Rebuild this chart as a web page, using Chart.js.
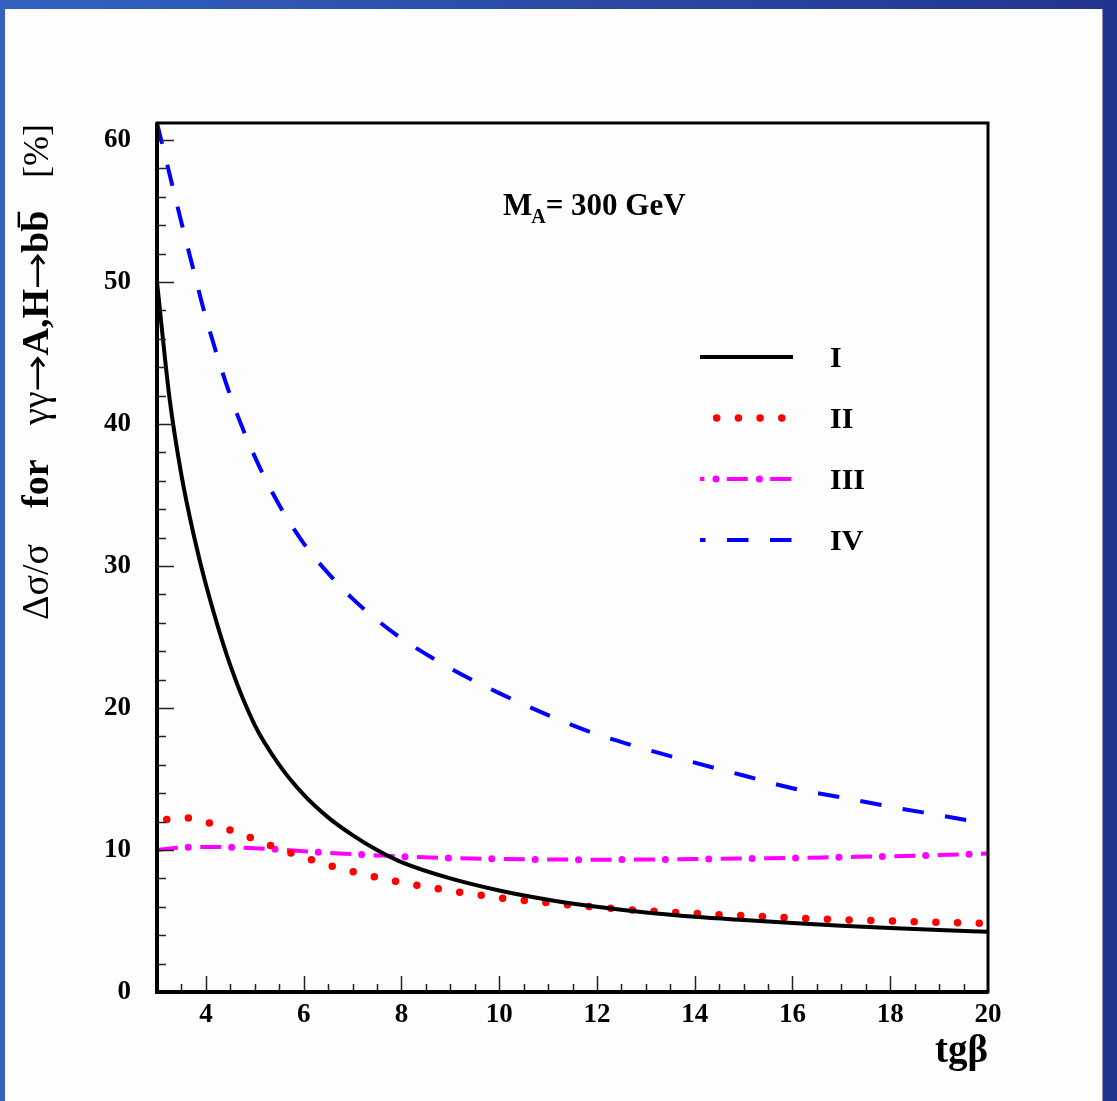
<!DOCTYPE html>
<html><head><meta charset="utf-8">
<script src="https://cdn.jsdelivr.net/npm/chart.js@4.4.1/dist/chart.umd.min.js"></script>
<style>html,body{margin:0;padding:0;background:#fdfdfd;overflow:hidden}canvas{display:block}</style>
</head><body><canvas id="c" width="1117" height="1101"></canvas>
<script>
// ---- data ----
const tgb = [3, 3.25, 3.5, 3.75, 4, 4.5, 5, 5.5, 6, 6.5, 7, 7.5, 8, 9, 10, 11, 12, 13, 14, 15, 16, 17, 18, 19, 20];
const seriesI   = [50, 42.0, 36.4, 32.2, 28.7, 23.0, 18.8, 16.0, 13.9, 12.3, 11.05, 10.0, 9.15, 8.0, 7.15, 6.5, 6.0, 5.6, 5.3, 5.07, 4.86, 4.67, 4.5, 4.36, 4.24];
const seriesII  = [12.0, 12.18, 12.27, 12.22, 11.98, 11.40, 10.75, 10.08, 9.50, 8.95, 8.48, 8.07, 7.72, 7.13, 6.64, 6.28, 5.97, 5.72, 5.53, 5.37, 5.22, 5.09, 5.00, 4.91, 4.83];
const seriesIII = [10.0, 10.1, 10.18, 10.21, 10.22, 10.19, 10.12, 10.03, 9.92, 9.80, 9.71, 9.62, 9.54, 9.44, 9.37, 9.33, 9.32, 9.33, 9.36, 9.40, 9.44, 9.50, 9.56, 9.64, 9.75];
const seriesIV  = [61.2, 57.7, 54.2, 50.8, 47.5, 42.0, 37.7, 34.3, 31.6, 29.5, 27.7, 26.2, 24.9, 22.8, 21.05, 19.5, 18.15, 17.1, 16.15, 15.25, 14.35, 13.7, 13.05, 12.45, 11.85];
const seriesNames = ['I', 'II', 'III', 'IV'];
const xMajorTicks = [4, 6, 8, 10, 12, 14, 16, 18, 20];
const yMajorTicks = [0, 10, 20, 30, 40, 50, 60];
const xRange = [3, 20];
const yRange = [0, 61.2];

// ---- styling ----
const SERIF = '"Liberation Serif", "Times New Roman", serif';
const xAll = []; for (let v = 3.5; v <= 20.001; v += 0.5) xAll.push(Math.round(v * 2) / 2);
const yAll = []; for (let v = 0; v <= 60; v += 2) yAll.push(v);
const pts = arr => tgb.map((x, i) => ({ x, y: arr[i] }));
const common = { pointRadius: 0, pointHoverRadius: 0, fill: false, cubicInterpolationMode: 'monotone', clip: 2 };

const datasets = [
  Object.assign({ label: 'I', data: pts(seriesI), borderColor: '#000000', borderWidth: 4 }, common),
  Object.assign({ label: 'II', data: pts(seriesII), borderColor: '#ff0000', borderWidth: 7.5, borderDash: [0, 21.7], borderDashOffset: 11.7, borderCapStyle: 'round' }, common),
  Object.assign({ label: 'III', data: pts(seriesIII), borderColor: '#ff00ff', borderWidth: 4, borderDash: [21, 22.4], borderCapStyle: 'butt' }, common),
  Object.assign({ label: 'III-dots', data: pts(seriesIII), borderColor: '#ff00ff', borderWidth: 7, borderDash: [0, 43.4], borderDashOffset: 12, borderCapStyle: 'round' }, common),
  Object.assign({ label: 'IV', data: pts(seriesIV), borderColor: '#0000ff', borderWidth: 4, borderDash: [21.5, 21.5], borderCapStyle: 'butt' }, common)
];

const decor = {
  id: 'decor',
  beforeDraw(chart) {
    const ctx = chart.ctx, W = chart.width, H = chart.height;
    ctx.save();
    const g = ctx.createLinearGradient(0, 0, W, 0);
    g.addColorStop(0, '#3362c0');
    g.addColorStop(1, '#22358e');
    ctx.fillStyle = g;
    ctx.fillRect(0, 0, W, H);
    ctx.fillStyle = '#fdfdfd';
    ctx.fillRect(5, 9, 1097, H - 9);
    ctx.fillStyle = '#8a8fc0';
    ctx.fillRect(1102, 9, 1, H - 9);
    ctx.restore();
  },
  afterDatasetsDraw(chart) {
    const ctx = chart.ctx, a = chart.chartArea;
    const xs = chart.scales.x, ys = chart.scales.y;
    ctx.save();
    // ticks (inward)
    ctx.strokeStyle = '#222';
    ctx.lineWidth = 1.5;
    ctx.beginPath();
    yAll.forEach(v => {
      if (v === 0) return;
      const p = Math.round(ys.getPixelForValue(v)) + 0.5;
      const len = (v % 10 === 0) ? 17 : 9;
      ctx.moveTo(a.left, p); ctx.lineTo(a.left + len, p);
    });
    xAll.forEach(v => {
      if (v >= 20) return;
      const p = Math.round(xs.getPixelForValue(v)) + 0.5;
      const len = (v % 2 === 0) ? 16 : 8;
      ctx.moveTo(p, a.bottom); ctx.lineTo(p, a.bottom - len);
    });
    ctx.stroke();
    // frame
    ctx.strokeStyle = '#000';
    ctx.lineWidth = 3;
    ctx.strokeRect(a.left, a.top, a.right - a.left, a.bottom - a.top);
    ctx.lineWidth = 4;
    ctx.beginPath();
    ctx.moveTo(a.left, a.top); ctx.lineTo(a.left, a.bottom); ctx.lineTo(a.right, a.bottom);
    ctx.stroke();

    // annotation M_A = 300 GeV
    ctx.fillStyle = '#000';
    ctx.textBaseline = 'alphabetic';
    ctx.textAlign = 'left';
    ctx.font = 'bold 31px ' + SERIF;
    let x = 503;
    ctx.fillText('M', x, 215); x += ctx.measureText('M').width;
    ctx.font = 'bold 20px ' + SERIF;
    ctx.fillText('A', x - 1, 223); x += ctx.measureText('A').width - 1;
    ctx.font = 'bold 31px ' + SERIF;
    ctx.fillText('= 300 GeV', x, 215);

    // legend
    const rows = [357, 418, 479, 540];
    const lx0 = 700, lx1 = 793;
    const drawSample = (ds, y, x0, x1, offset) => {
      ctx.save();
      ctx.strokeStyle = ds.borderColor;
      ctx.lineWidth = ds.borderWidth;
      ctx.lineCap = ds.borderCapStyle || 'butt';
      ctx.setLineDash(ds.borderDash || []);
      ctx.lineDashOffset = offset || 0;
      ctx.beginPath(); ctx.moveTo(x0, y); ctx.lineTo(x1, y); ctx.stroke();
      ctx.restore();
    };
    drawSample(datasets[0], rows[0], lx0, lx1, 0);
    drawSample(datasets[1], rows[1], 716.7, 785, 0);
    drawSample(datasets[2], rows[2], lx0, lx1, 16.6);
    drawSample(datasets[3], rows[2], lx0, lx1, 27.4);
    drawSample(datasets[4], rows[3], lx0, lx1, 16);
    ctx.fillStyle = '#000';
    ctx.font = 'bold 30px ' + SERIF;
    ctx.textBaseline = 'middle';
    seriesNames.forEach((n, i) => ctx.fillText(n, 830, rows[i] + 2));

    // x title
    ctx.textBaseline = 'alphabetic';
    ctx.textAlign = 'right';
    ctx.font = 'bold 39px ' + SERIF;
    ctx.fillText('tgβ', 988, 1062);

    // y title (rotated)
    ctx.translate(48, 0);
    ctx.rotate(-Math.PI / 2);
    ctx.textAlign = 'left';
    const F = 38;
    const put = (txt, weight, start, size) => {
      ctx.font = weight + ' ' + (size || F) + 'px ' + SERIF;
      ctx.fillText(txt, start, 0);
      return start + ctx.measureText(txt).width;
    };
    const arrow = (start, w) => {
      const v = -F * 0.27;
      ctx.save();
      ctx.strokeStyle = '#000';
      ctx.lineWidth = 2.6;
      ctx.lineCap = 'butt';
      ctx.beginPath();
      ctx.moveTo(start + 2, v); ctx.lineTo(start + w - 3, v);
      ctx.moveTo(start + w - 11, v - 6.5); ctx.lineTo(start + w - 3, v); ctx.lineTo(start + w - 11, v + 6.5);
      ctx.stroke();
      ctx.restore();
      return start + w;
    };
    put('Δσ/σ', 'normal', -620);
    put('for', 'bold', -508);
    let u = put('γγ', 'normal', -425);
    u = arrow(u, 36);
    u = put('A,H', 'bold', u);
    u = arrow(u, 36);
    u = put('b', 'bold', u);
    ctx.font = 'bold ' + F + 'px ' + SERIF;
    const bw = ctx.measureText('b').width;
    put('b', 'bold', u);
    ctx.fillRect(u + bw * 0.2, -F * 0.8, bw * 0.75, 2.5);
    put('[%]', 'normal', -178, 36);
    ctx.restore();
  }
};

new Chart(document.getElementById('c').getContext('2d'), {
  type: 'line',
  data: { datasets },
  options: {
    responsive: false,
    animation: false,
    devicePixelRatio: 1,
    events: [],
    layout: { padding: { left: 0, top: 123, right: 129, bottom: 0 } },
    plugins: { legend: { display: false }, tooltip: { enabled: false } },
    scales: {
      x: {
        type: 'linear', min: xRange[0], max: xRange[1],
        afterFit(s) { s.height = 109; },
        afterBuildTicks(s) { s.ticks = xAll.map(v => ({ value: v })); },
        grid: { display: false, drawTicks: false },
        border: { display: false },
        ticks: {
          autoSkip: false, maxRotation: 0, minRotation: 0, padding: 7,
          color: '#000', font: { family: SERIF, size: 27, weight: 'bold' },
          callback: v => xMajorTicks.includes(v) ? String(v) : ''
        }
      },
      y: {
        type: 'linear', min: yRange[0], max: yRange[1],
        afterFit(s) { s.width = 157; },
        afterBuildTicks(s) { s.ticks = yAll.map(v => ({ value: v })); },
        grid: { display: false, drawTicks: false },
        border: { display: false },
        ticks: {
          autoSkip: false, padding: 26,
          color: '#000', font: { family: SERIF, size: 27, weight: 'bold' },
          callback: v => yMajorTicks.includes(v) ? String(v) : ''
        }
      }
    }
  },
  plugins: [decor]
});
</script>
</body></html>
